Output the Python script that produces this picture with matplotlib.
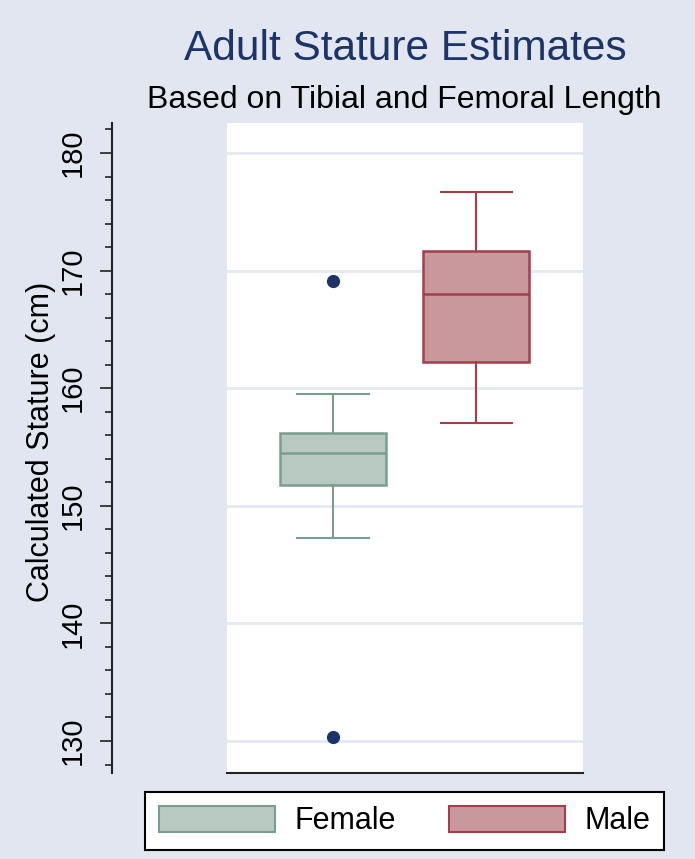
import numpy as np
import matplotlib
matplotlib.use("Agg")
import matplotlib.pyplot as plt
from matplotlib.patches import Patch
from matplotlib.ticker import MultipleLocator

plt.rcParams['font.family'] = ['Liberation Sans', 'DejaVu Sans']

# ── Datos ─────────────────────────────────────────────────────────────────────
groups   = ["Female", "Male"]
whislo   = [147.3, 157.0]
q1       = [151.8, 162.2]
med      = [154.5, 168.0]
q3       = [156.2, 171.7]
whishi   = [159.5, 176.7]
fliers   = [[169.1, 130.3], []]

fills    = ["#b8c9c2", "#c9989c"]
edges    = ["#7a9d8d", "#a23f4a"]
bg       = "#e1e6f0"
navy     = "#1c3468"

stats = [dict(label=g, whislo=lo, q1=a, med=m, q3=b, whishi=hi, fliers=f)
         for g, lo, a, m, b, hi, f in zip(groups, whislo, q1, med, q3, whishi, fliers)]

fig = plt.figure(figsize=(6.95, 8.59), dpi=100, facecolor=bg)
ax = fig.add_axes([227/695, 1 - 773/859, 356/695, 650/859])
ax.set_facecolor("white")

bp = ax.bxp(stats, positions=[1, 2], widths=0.74, capwidths=0.5,
            patch_artist=True, showfliers=True)
for i in range(2):
    bp['boxes'][i].set(facecolor=fills[i], edgecolor=edges[i], linewidth=1.8)
    bp['medians'][i].set(color=edges[i], linewidth=1.8)
    for ln in bp['whiskers'][2*i:2*i+2] + bp['caps'][2*i:2*i+2]:
        ln.set(color=edges[i], linewidth=1.5)
    bp['fliers'][i].set(marker='o', markerfacecolor=navy, markeredgecolor=navy,
                        markersize=8.5)

ax.set_xlim(0.258, 2.744)
ax.set_ylim(127.28, 182.55)
ax.set_xticks([])
ax.yaxis.set_major_locator(MultipleLocator(10))
ax.yaxis.set_minor_locator(MultipleLocator(2))
ax.grid(True, axis='y', which='major', color="#e4e8f2", lw=2)
ax.set_axisbelow(True)

for s in ['top', 'right']:
    ax.spines[s].set_visible(False)
ax.spines['left'].set_position(('outward', 115 * 0.72))
ax.spines['left'].set(color="#222222", linewidth=1.5)
ax.spines['bottom'].set(color="#222222", linewidth=1.5)

ax.tick_params(axis='y', which='major', length=8.5, width=1.2, color="#222222",
               labelsize=21, pad=10)
ax.tick_params(axis='y', which='minor', length=5, width=1.2, color="#222222")
for lbl in ax.get_yticklabels():
    lbl.set_rotation(90)
    lbl.set_va('center')

ax.set_ylabel("Calculated Stature (cm)", fontsize=22)
ax.yaxis.label.set_va('center')
ax.yaxis.label.set_ha('center')
ax.yaxis.set_label_coords((41 - 227) / 356, 0.51)

fig.text(405/695, 1 - 60/859, "Adult Stature Estimates", fontsize=30.5,
         color=navy, ha='center', va='baseline')
fig.text(404/695, 1 - 108/859, "Based on Tibial and Femoral Length", fontsize=23,
         color='black', ha='center', va='baseline')

handles = [Patch(facecolor=fills[i], edgecolor=edges[i], linewidth=1.5, label=groups[i])
           for i in range(2)]
leg = fig.legend(handles=handles, loc='center', bbox_to_anchor=(404.5/695, 1 - 821/859),
                 ncol=2, fontsize=22, frameon=True, fancybox=False,
                 handlelength=3.8, handleheight=0.95, handletextpad=0.62,
                 columnspacing=1.75, borderpad=0.45, borderaxespad=0)
leg.get_frame().set(edgecolor='black', linewidth=1.5, facecolor='white', alpha=1)

fig.savefig("out.png", dpi=100, facecolor=bg)
